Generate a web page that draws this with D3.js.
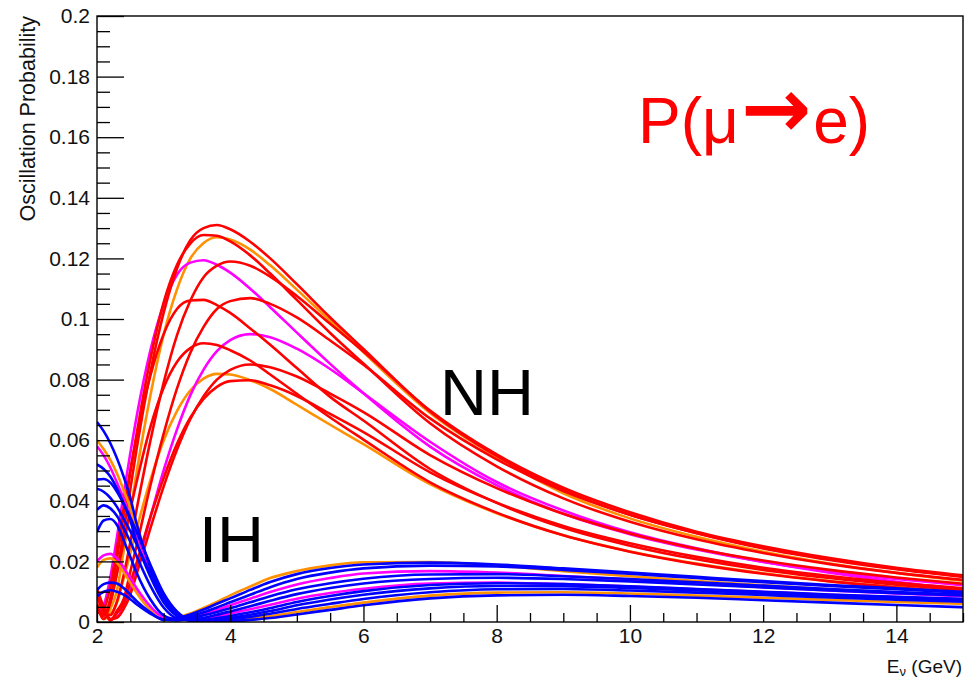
<!DOCTYPE html>
<html>
<head>
<meta charset="utf-8">
<script src="https://cdn.jsdelivr.net/npm/d3@7"></script>
<style>
  body { margin: 0; background: #fff; }
  svg { display: block; }
  text { font-family: "Liberation Sans", Arial, sans-serif; }
</style>
</head>
<body>
<div id="chart"></div>
<script>
// energy grid (GeV) shared by every curve
const energyGeV = [2.0, 2.1, 2.2, 2.3, 2.4, 2.5, 2.6, 2.8, 3.0, 3.2, 3.4, 3.6, 3.8, 4.0,
  4.3, 4.6, 5.0, 5.5, 6.0, 7.0, 8.0, 9.0, 10, 11, 12, 13, 14, 15];

// normal hierarchy, P(mu -> e)
const nhA = [.006, .001, .0066, .0165, .0299, .0439, .0578, .0823, .102, .1166, .126, .130, .131, .1296,
  .1255, .120, .1115, .1005, .0901, .0695, .0548, .0436, .0354, .0293, .0243, .0205, .0174, .0149];
const nhB = [.004, .0026, .0077, .0211, .0351, .0494, .0627, .0866, .1054, .1178, .1249, .1277, .1275, .1256,
  .121, .115, .1063, .0954, .0853, .0656, .0514, .0408, .0331, .0273, .0228, .0191, .0162, .0139];
const nhC = [.008, .001, .0043, .0104, .0234, .0364, .0501, .0746, .0948, .1097, .1199, .1251, .127, .1262,
  .1229, .1177, .1097, .0994, .089, .069, .0545, .0425, .0342, .0281, .0232, .0193, .0162, .0136];
const nhD = [.003, .0055, .0148, .0281, .0422, .0557, .0684, .0895, .1047, .1146, .1186, .1194, .1179, .1153,
  .11, .1039, .0955, .0852, .0755, .0579, .0452, .0357, .029, .0239, .0198, .0167, .0142, .0121];
const nhE = [.01, .003, .0023, .0068, .0154, .0263, .0378, .0597, .0789, .0946, .106, .1138, .1176, .119,
  .1176, .114, .1076, .0984, .0893, .0698, .0553, .0443, .0362, .0298, .025, .0211, .0179, .0154];
const nhF = [.003, .0041, .0118, .0243, .0375, .0501, .0618, .0812, .095, .1033, .1061, .1063, .1046, .102,
  .0969, .0915, .0838, .0743, .0665, .0505, .0393, .0311, .0252, .0207, .0172, .0145, .0123, .0105];
const nhG = [.011, .005, .0005, .0037, .0075, .0166, .0257, .0449, .0621, .077, .0888, .0974, .1033, .1059,
  .1069, .105, .1005, .0929, .0849, .0672, .0537, .0432, .0354, .0294, .0245, .0208, .0176, .0151];
const nhH = [.008, .004, .001, .0016, .0049, .0102, .0181, .0344, .05, .0635, .0748, .0833, .0894, .093,
  .095, .094, .0902, .0835, .0755, .0595, .0462, .0368, .0296, .0243, .0199, .0163, .0133, .0109];
const nhI = [.004, .002, .0063, .016, .0264, .037, .0467, .0642, .0773, .0858, .0904, .092, .0914, .0897,
  .0863, .0817, .0753, .0675, .0602, .0461, .0361, .0286, .0232, .0191, .0159, .0134, .0114, .0097];
const nhJ = [.009, .004, .001, .0014, .0043, .0091, .0162, .0308, .0447, .0568, .0669, .0745, .08, .0832,
  .085, .0841, .081, .0754, .0693, .0551, .0442, .0357, .0292, .0242, .0203, .0172, .0147, .0126];
const nhK = [.007, .001, .0026, .0063, .0143, .0226, .0311, .0467, .0599, .0696, .0764, .0803, .0819, .0817,
  .0798, .0769, .0717, .0651, .0587, .0455, .0359, .0286, .0233, .0193, .0161, .0135, .0115, .0098];
const nhL = [.01, .004, .0005, .0029, .006, .013, .0199, .0346, .0475, .0587, .0674, .0736, .0776, .0795,
  .0798, .0781, .0746, .0687, .0627, .0494, .0394, .0317, .026, .0215, .0179, .0152, .0129, .0111];

// inverted hierarchy
const ih1 = [.018, .0205, .021, .0195, .0165, .013, .0095, .004, .0008, .0015, .0028, .0046, .0066, .0088,
  .0117, .0145, .0168, .0187, .0197, .0198, .0186, .0168, .0151, .0135, .0121, .0108, .0097, .0088];
const ih2 = [.0106, .0125, .013, .0127, .0112, .009, .0068, .0032, .0007, .0012, .0025, .0041, .006, .0078,
  .0106, .0132, .0158, .0178, .019, .0196, .019, .0177, .0163, .0149, .0135, .0122, .0111, .0100];
const ih3 = [.0297, .0335, .034, .032, .027, .0215, .016, .0075, .0022, .0009, .0018, .0032, .0048, .0065,
  .009, .0115, .0142, .0163, .0177, .0186, .0183, .0172, .0159, .0145, .0131, .0119, .0108, .0097];
const ih4 = [.02, .022, .0225, .021, .018, .0145, .011, .0052, .0015, .0008, .0015, .0027, .004, .0055,
  .0077, .0099, .0124, .0145, .016, .0168, .0163, .0152, .014, .0127, .0115, .0104, .0094, .0085];
const ih5 = [.0085, .01, .0105, .01, .009, .0075, .0058, .0028, .0008, .0005, .0012, .0022, .0033, .0045,
  .0065, .0085, .0108, .0128, .0143, .0157, .0158, .0151, .0142, .0131, .012, .0109, .0099, .009];
const ih6 = [.037, .0385, .0375, .035, .031, .0265, .0215, .012, .0048, .0013, .0008, .0014, .0024, .0035,
  .0052, .007, .0092, .0112, .0127, .0142, .0146, .0142, .0134, .0124, .0114, .0104, .0095, .0087];
const ih7 = [.058, .055, .051, .046, .0405, .0345, .0285, .0175, .0085, .003, .0008, .0009, .0017, .0028,
  .0042, .0057, .0077, .0096, .011, .0127, .013, .0125, .0117, .0108, .0099, .009, .0082, .0075];
const ih8 = [.047, .0472, .046, .043, .039, .0345, .0295, .019, .0095, .0035, .0008, .0007, .0013, .002,
  .0032, .0046, .0066, .0086, .0102, .0122, .0128, .0125, .0118, .0109, .01, .0091, .0083, .0076];
const ih9 = [.044, .043, .041, .038, .034, .03, .0255, .016, .008, .0028, .0006, .0005, .0009, .0014,
  .0024, .0036, .0055, .0074, .009, .0111, .0119, .0118, .0112, .0104, .0095, .0087, .0079, .0072];
const ih10 = [.052, .0505, .048, .044, .039, .0335, .026, .015, .0065, .002, .0006, .0003, .0005, .0009,
  .0017, .0027, .0043, .006, .0076, .0098, .0108, .0109, .0104, .0097, .0089, .0081, .0074, .0067];
const ih11 = [.06, .057, .0535, .049, .0435, .0375, .029, .0165, .007, .0022, .0006, .0002, .0003, .0006,
  .0011, .0019, .0033, .0049, .0064, .0087, .0097, .0098, .0094, .0087, .008, .0073, .0066, .006];
const ih12 = [.066, .063, .059, .054, .048, .041, .032, .018, .0078, .0025, .0004, .0001, .0001, .0003,
  .0007, .0013, .0025, .004, .0055, .0078, .0088, .009, .0086, .008, .0072, .0064, .0056, .0049];

const xTicks = [2, 4, 6, 8, 10, 12, 14];
const yTicks = [0, 0.02, 0.04, 0.06, 0.08, 0.1, 0.12, 0.14, 0.16, 0.18, 0.2];

const RED = "#ff0000", ORANGE = "#ff9000", MAGENTA = "#ff00ff", BLUE = "#0000ff";

// draw order: NH bundle first, IH on top
const curves = [
  [nhC, ORANGE], [nhK, ORANGE], [nhD, MAGENTA], [nhH, MAGENTA],
  [nhA, RED], [nhB, RED], [nhE, RED], [nhF, RED], [nhG, RED], [nhI, RED], [nhJ, RED], [nhL, RED],
  [ih1, ORANGE], [ih11, ORANGE], [ih4, MAGENTA], [ih7, MAGENTA],
  [ih2, BLUE], [ih3, BLUE], [ih5, BLUE], [ih6, BLUE], [ih8, BLUE], [ih9, BLUE], [ih10, BLUE], [ih12, BLUE]
];

const W = 971, H = 680;
const plotL = 97, plotR = 963, plotT = 16, plotB = 622;

const x = d3.scaleLinear().domain([2, 15]).range([plotL, plotR]);
const y = d3.scaleLinear().domain([0, 0.2]).range([plotB, plotT]);

const svg = d3.select("#chart").append("svg")
  .attr("width", W).attr("height", H);

svg.append("clipPath").attr("id", "plot")
  .append("rect").attr("x", plotL).attr("y", plotT)
  .attr("width", plotR - plotL).attr("height", plotB - plotT);

let line = d3.line()
  .x((d, i) => x(energyGeV[i]))
  .y(d => y(d))
  .curve(d3.curveMonotoneX);

// curves
let g = svg.append("g").attr("clip-path", "url(#plot)");
curves.forEach(([vals, col]) => {
  g.append("path")
    .attr("d", line(vals))
    .style("fill", "none")
    .style("stroke", col)
    .style("stroke-width", 2.6)
    .style("stroke-linejoin", "round");
});

// axes, ROOT style: ticks inside the frame
let yMinor = d3.range(0, 41).map(i => i * 0.005).filter((v, i) => i % 4 !== 0);
let xMinor = d3.range(0, 27).map(i => 2 + i * 0.5).filter(v => v % 2 !== 0);

svg.append("g").attr("transform", `translate(${plotL},0)`)
  .call(d3.axisLeft(y).tickValues(yMinor).tickSize(-13).tickFormat(""))
  .call(a => a.select(".domain").remove());
svg.append("g").attr("transform", `translate(${plotL},0)`)
  .call(d3.axisLeft(y).tickValues(yTicks).tickSize(-27).tickPadding(7)
    .tickFormat(d => String(+d.toFixed(3))))
  .call(a => a.select(".domain").remove())
  .call(a => a.selectAll("text").style("font-size", "21px").style("fill", "#111")
    .style("font-family", "'Liberation Sans', Arial, sans-serif"));

svg.append("g").attr("transform", `translate(0,${plotB})`)
  .call(d3.axisBottom(x).tickValues(xMinor).tickSize(-9).tickFormat(""))
  .call(a => a.select(".domain").remove());
svg.append("g").attr("transform", `translate(0,${plotB})`)
  .call(d3.axisBottom(x).tickValues(xTicks).tickSize(-17).tickPadding(6).tickFormat(d3.format("d")))
  .call(a => a.select(".domain").remove())
  .call(a => a.selectAll("text").style("font-size", "21px").style("fill", "#111")
    .style("font-family", "'Liberation Sans', Arial, sans-serif"));

svg.selectAll(".tick line").style("stroke", "#000").style("stroke-width", 1.3);

// frame
svg.append("rect")
  .attr("x", plotL).attr("y", plotT)
  .attr("width", plotR - plotL).attr("height", plotB - plotT)
  .style("fill", "none").style("stroke", "#000").style("stroke-width", 1.4);

// axis titles
svg.append("text")
  .attr("transform", "translate(35,16) rotate(-90)")
  .style("text-anchor", "end")
  .style("font-size", "21.5px").style("fill", "#111")
  .text("Oscillation Probability");

let xt = svg.append("text")
  .attr("x", 962).attr("y", 673)
  .style("text-anchor", "end")
  .style("font-size", "19px").style("fill", "#111");
xt.append("tspan").text("E");
xt.append("tspan").attr("dy", 3).style("font-size", "13px").text("ν");
xt.append("tspan").attr("dy", -3).text(" (GeV)");

// annotations
svg.append("text").attr("x", 440).attr("y", 415)
  .style("font-size", "65px").style("fill", "#000").text("NH");
svg.append("text").attr("x", 199).attr("y", 562)
  .style("font-size", "65px").style("fill", "#000").text("IH");

let title = svg.append("text").attr("x", 638).attr("y", 143)
  .style("font-size", "64px").style("fill", "#ff0000");
title.append("tspan").text("P(μ");
title.append("tspan").attr("dy", -6).attr("dx", 2)
  .style("font-family", "'DejaVu Sans', sans-serif").style("font-weight", "bold")
  .style("font-size", "84px").text("→");
title.append("tspan").attr("dy", 6).attr("dx", 2).text("e)");
</script>
</body>
</html>
